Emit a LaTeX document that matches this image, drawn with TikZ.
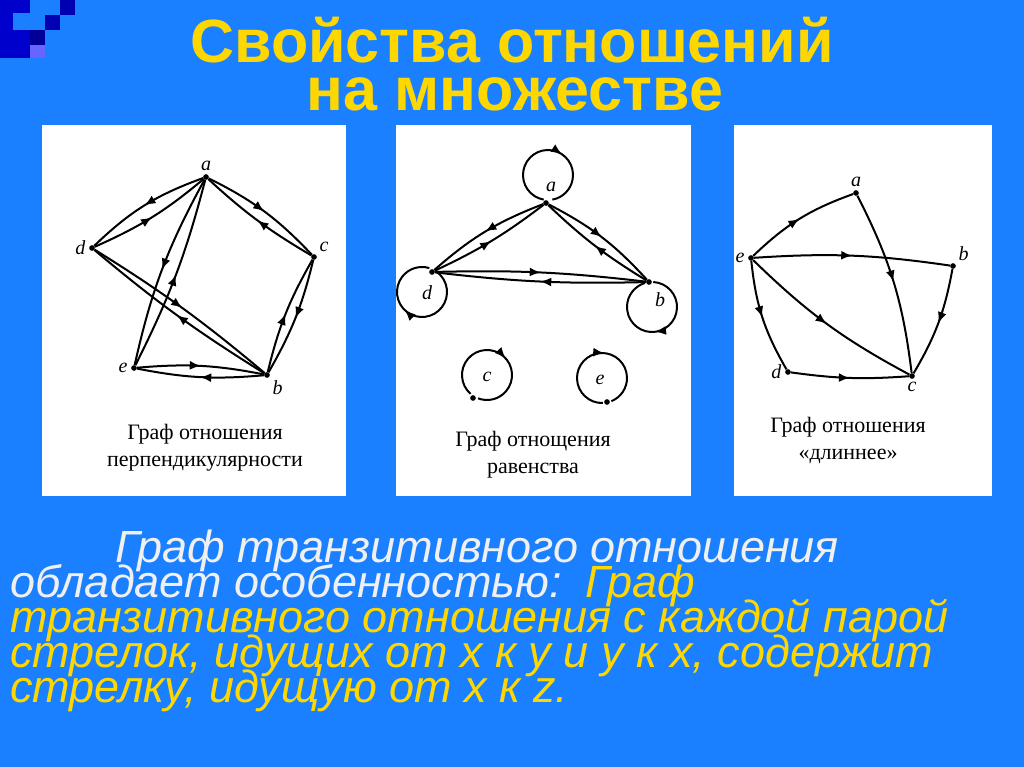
\documentclass[tikz,border=0pt]{standalone}
\usepackage{fontspec}
\setmainfont{Liberation Sans}
\newfontfamily\serifx{Liberation Serif}
\usetikzlibrary{decorations.markings,arrows.meta}
\definecolor{bg}{HTML}{1A80FF}
\definecolor{ttl}{HTML}{FFD700}
\definecolor{wht}{HTML}{F0F0F0}
\begin{document}
\begin{tikzpicture}[x=1pt,y=-1pt,
  edg/.style={line width=2pt,postaction={decorate},decoration={markings,mark=at position 0.5 with {\arrow{Latex[length=11pt,width=9pt]}}}},
  lp/.style={line width=2pt,postaction={decorate},decoration={markings,mark=at position #1 with {\arrow{Latex[length=11pt,width=9pt]}}}},
  dot/.style={circle,fill=black,inner sep=2pt},
  lab/.style={font=\serifx\itshape\fontsize{20}{20}\selectfont},
  captxt/.style={font=\serifx\fontsize{22}{27}\selectfont,align=center},
  panel/.style={fill=white,draw=none}]
\fill[bg] (0,0) rectangle (1024,767);
% corner squares
\fill[blue!80!black] (0,0) rectangle (30,58);
\fill[bg] (13,13) rectangle (30,30);
\fill[blue!70!black] (45,15) rectangle (60,30);
\fill[blue!70!black] (60,0) rectangle (75,15);
\fill[blue!60!black] (30,30) rectangle (45,45);
\fill[blue!60] (30,45) rectangle (45,58);
% title
\node[font=\bfseries\fontsize{61}{61}\selectfont,text=ttl] (t1) at (512,40) {Свойства отношений};
\node[font=\bfseries\fontsize{61}{61}\selectfont,text=ttl] (t2) at (515,94) {на множестве};
% panels
\fill[panel] (42,125) rectangle (346,496);
\fill[panel] (396,125) rectangle (691,496);
\fill[panel] (734,125) rectangle (992,496);
% graph 1
\node[dot] (a1) at (206,177) {}; \node[lab,above] at (a1.north) {a};
\node[dot] (d1) at (92,248) {}; \node[lab,left] at (d1.west) {d};
\node[dot] (c1) at (314,257) {}; \node[lab,above right] at (c1.north east) {c};
\node[dot] (e1) at (134,368) {}; \node[lab,left] at (e1.west) {e};
\node[dot] (b1) at (267,375) {}; \node[lab,below right] at (b1.south east) {b};
\draw[edg] (a1) to[bend right=12] (d1); \draw[edg] (d1) to[bend right=8] (a1);
\draw[edg] (a1) to[bend left=10] (c1); \draw[edg] (c1) to[bend left=6] (a1);
\draw[edg] (a1) to[bend right=8] (e1); \draw[edg] (e1) to[bend right=6] (a1);
\draw[edg] (d1) to[bend left=4] (b1); \draw[edg] (b1) to[bend left=4] (d1);
\draw[edg] (b1) to[bend left=8] (c1); \draw[edg] (c1) to[bend left=8] (b1);
\draw[edg] (e1) to[bend left=8] (b1); \draw[edg] (b1) to[bend left=8] (e1);
\node[captxt] (cap1) at (205,448) {Граф отношения\\перпендикулярности};
% graph 2
\node[dot] (a2) at (546,203) {}; \node[lab] at (551,187) {a};
\node[dot] (d2) at (432,272) {}; \node[lab] at (427,293) {d};
\node[dot] (b2) at (649,282) {}; \node[lab] at (660,300) {b};
\node[dot] (c2) at (473,398) {}; \node[lab] at (487,377) {c};
\node[dot] (e2) at (607,402) {}; \node[lab] at (600,380) {e};
\draw[edg] (a2) to[bend right=10] (d2); \draw[edg] (d2) to[bend right=6] (a2);
\draw[edg] (a2) to[bend left=10] (b2); \draw[edg] (b2) to[bend left=6] (a2);
\draw[edg] (d2) to[bend left=4] (b2); \draw[edg] (b2) to[bend left=4] (d2);
\draw[lp=0.6] ([shift={(548,175)}]100:25) arc[start angle=100,end angle=440,radius=25];
\draw[lp=0.55] ([shift={(422,292)}]-53:25) arc[start angle=-53,end angle=287,radius=25];
\draw[lp=0.5] ([shift={(652,307)}]-87:25) arc[start angle=-87,end angle=253,radius=25];
\draw[lp=0.55] ([shift={(487,375)}]131:25) arc[start angle=131,end angle=471,radius=25];
\draw[lp=0.55] ([shift={(602,378)}]88:25) arc[start angle=88,end angle=428,radius=25];
\node[captxt] (cap2) at (533,455) {Граф отнощения\\равенства};
% graph 3
\node[dot] (a3) at (856,193) {}; \node[lab,above] at (a3.north) {a};
\node[dot] (e3) at (751,258) {}; \node[lab,left] at (e3.west) {e};
\node[dot] (b3) at (953,266) {}; \node[lab,above right] at (b3.north east) {b};
\node[dot] (d3) at (788,372) {}; \node[lab,left] at (d3.west) {d};
\node[dot] (c3) at (912,376) {}; \node[lab,below] at (c3.south) {c};
\draw[edg] (e3) to[bend left=12] (a3);
\draw[edg] (e3) to[bend left=6] (b3);
\draw[edg] (a3) to[bend left=10] (c3);
\draw[edg] (b3) to[bend left=10] (c3);
\draw[edg] (e3) to[bend right=12] (d3);
\draw[edg] (e3) to[bend right=8] (c3);
\draw[edg] (d3) to[bend right=6] (c3);
\node[captxt] (cap3) at (848,440) {Граф отношения\\«длиннее»};
% bottom text
\begin{scope}[every node/.style={anchor=base west,font=\itshape\fontsize{45}{45}\selectfont,inner sep=0}]
\node[text=wht] (l1) at (115,562) {Граф транзитивного отношения};
\node[text=wht] (l2) at (10,597) {обладает особенностью:};
\node[text=ttl] (l2b) at (585,597) {Граф};
\node[text=ttl] (l3) at (10,632) {транзитивного отношения с каждой парой};
\node[text=ttl] (l4) at (10,667) {стрелок, идущих от x к y и y к x, содержит};
\node[text=ttl] (l5) at (10,702) {стрелку, идущую от x к z.};
\end{scope}
\end{tikzpicture}
\end{document}
